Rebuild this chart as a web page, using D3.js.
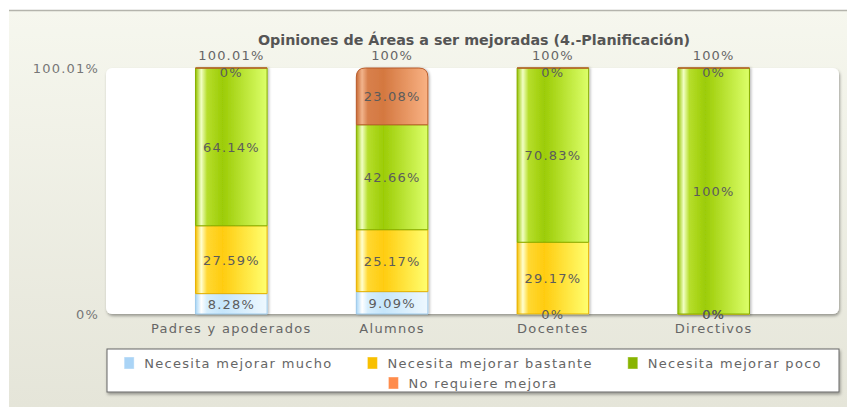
<!DOCTYPE html>
<html>
<head>
<meta charset="utf-8">
<script src="https://cdn.jsdelivr.net/npm/d3@7"></script>
<style>
  body { margin: 0; background: #fff; }
  text { font-family: "DejaVu Sans", Verdana, sans-serif; }
</style>
</head>
<body>
<div class="canvas"></div>
<script>
// chart data
const title = "Opiniones de Áreas a ser mejoradas (4.-Planificación)";
const categories = ["Padres y apoderados", "Alumnos", "Docentes", "Directivos"];
const seriesNames = ["Necesita mejorar mucho", "Necesita mejorar bastante", "Necesita mejorar poco", "No requiere mejora"];
const mucho = [8.28, 9.09, 0, 0];
const bastante = [27.59, 25.17, 29.17, 0];
const poco = [64.14, 42.66, 70.83, 100];
const noRequiere = [0, 23.08, 0, 0];
const totals = ["100.01%", "100%", "100%", "100%"];
const yTicks = [0, 100.01];

const dims = { width: 847, height: 407 };
const plot = { left: 106, right: 839, top: 68, bottom: 314 };

const palette = [
  { stops: ["#a8d6f6", "#ffffff", "#d6eefd", "#c6e6fb", "#eef8ff"], stroke: "#9fcbeb", legend: "#aad4f6" },
  { stops: ["#f5c000", "#ffffd0", "#ffd832", "#ffcc10", "#ffff70"], stroke: "#e6b000", legend: "#f8c000" },
  { stops: ["#94c400", "#f2ffc4", "#b6de2c", "#9ccc06", "#dcff6a"], stroke: "#86ae00", legend: "#88b400" },
  { stops: ["#c86a34", "#f2b48c", "#d8804c", "#d47840", "#f9b284"], stroke: "#b85c2c", legend: "#ff8c4c" }
];

const svg = d3
  .select(".canvas")
  .append("svg")
  .attr("width", dims.width)
  .attr("height", dims.height);

const defs = svg.append("defs");

// background gradient
const bg = defs.append("linearGradient").attr("id", "bg").attr("x1", 0).attr("y1", 0).attr("x2", 0).attr("y2", 1);
bg.append("stop").attr("offset", "0%").attr("stop-color", "#f6f7ee");
bg.append("stop").attr("offset", "100%").attr("stop-color", "#e5e5d9");

palette.forEach((p, i) => {
  const g = defs.append("linearGradient").attr("id", `bar${i}`).attr("x1", 0).attr("y1", 0).attr("x2", 1).attr("y2", 0);
  [0, 8, 16, 38, 100].forEach((o, k) => {
    g.append("stop").attr("offset", `${o}%`).attr("stop-color", p.stops[k]);
  });
});

const shadow = defs.append("filter").attr("id", "shadow").attr("x", "-5%").attr("y", "-5%").attr("width", "115%").attr("height", "130%");
shadow.append("feDropShadow").attr("dx", 1).attr("dy", 2).attr("stdDeviation", 1.5).attr("flood-color", "#000").attr("flood-opacity", 0.35);

const barShadow = defs.append("filter").attr("id", "barShadow").attr("x", "-10%").attr("y", "-5%").attr("width", "130%").attr("height", "110%");
barShadow.append("feDropShadow").attr("dx", 1.5).attr("dy", 0.5).attr("stdDeviation", 1).attr("flood-color", "#000").attr("flood-opacity", 0.25);

// background panel
svg.append("rect").attr("x", 9).attr("y", 10).attr("width", dims.width - 9).attr("height", dims.height - 10).attr("fill", "url(#bg)");
svg.append("line").attr("x1", 9).attr("x2", dims.width).attr("y1", 10.5).attr("y2", 10.5).attr("stroke", "#b4b4ac").attr("stroke-width", 1.5);

// plot area
svg.append("rect")
  .attr("x", plot.left).attr("y", plot.top)
  .attr("width", plot.right - plot.left).attr("height", plot.bottom - plot.top)
  .attr("rx", 6)
  .attr("fill", "#fff")
  .attr("filter", "url(#shadow)");

// title
svg.append("text")
  .attr("x", 474).attr("y", 45)
  .attr("text-anchor", "middle")
  .attr("font-family", "'DejaVu Sans Condensed', 'DejaVu Sans', sans-serif")
  .attr("font-weight", "bold")
  .attr("font-size", 14.3)
  .attr("fill", "#555")
  .text(title);

// scales
const x = d3.scaleBand()
  .domain(categories)
  .range([plot.left, plot.right])
  .paddingInner(0.555)
  .paddingOuter(0.557);

const y = d3.scaleLinear().domain([0, 100.01]).range([plot.bottom, plot.top]);

// y labels
svg.append("g")
  .selectAll("text")
  .data(yTicks)
  .enter()
  .append("text")
  .attr("x", 99)
  .attr("y", (d) => y(d) + 5)
  .attr("text-anchor", "end")
  .attr("font-size", 13)
  .attr("letter-spacing", 1.2)
  .attr("fill", "#777")
  .text((d) => d + "%");

// stack data
const rows = categories.map((c, i) => ({
  cat: c,
  [seriesNames[0]]: mucho[i],
  [seriesNames[1]]: bastante[i],
  [seriesNames[2]]: poco[i],
  [seriesNames[3]]: noRequiere[i]
}));
const stack = d3.stack().keys(seriesNames);
const layers = stack(rows);

const topRounded = (x0, y0, w, h, r) => {
  r = Math.min(r, h, w / 2);
  return `M${x0},${y0 + h}V${y0 + r}Q${x0},${y0} ${x0 + r},${y0}H${x0 + w - r}Q${x0 + w},${y0} ${x0 + w},${y0 + r}V${y0 + h}Z`;
};

const bars = svg.append("g").attr("filter", "url(#barShadow)");
layers.forEach((layer, si) => {
  const last = si === layers.length - 1;
  bars.append("g")
    .selectAll("path")
    .data(layer)
    .enter()
    .append("path")
    .attr("d", (d) => {
      const x0 = x(d.data.cat), w = x.bandwidth();
      const y0 = y(d[1]), h = y(d[0]) - y(d[1]);
      if (last && h > 0) return topRounded(x0, y0, w, h, 9);
      return `M${x0},${y0}h${w}v${h}h${-w}Z`;
    })
    .attr("fill", `url(#bar${si})`)
    .attr("stroke", palette[si].stroke)
    .attr("stroke-width", 1);
});

// value labels inside segments (zero segments sit on the bar edge)
layers.forEach((layer) => {
  svg.append("g")
    .selectAll("text")
    .data(layer)
    .enter()
    .append("text")
    .attr("x", (d) => x(d.data.cat) + x.bandwidth() / 2)
    .attr("y", (d) => {
      const mid = (y(d[0]) + y(d[1])) / 2;
      return d[1] - d[0] === 0 && d[1] > 0 ? mid + 9 : mid + 5;
    })
    .attr("text-anchor", "middle")
    .attr("font-size", 13)
    .attr("letter-spacing", 1.2)
    .attr("fill", "#5c5c5c")
    .text((d) => +(d[1] - d[0]).toFixed(2) + "%");
});

// totals above bars
svg.append("g")
  .selectAll("text")
  .data(categories)
  .enter()
  .append("text")
  .attr("x", (d) => x(d) + x.bandwidth() / 2)
  .attr("y", 60)
  .attr("text-anchor", "middle")
  .attr("font-size", 13)
  .attr("letter-spacing", 1.2)
  .attr("fill", "#666")
  .text((d, i) => totals[i]);

// category labels
svg.append("g")
  .selectAll("text")
  .data(categories)
  .enter()
  .append("text")
  .attr("x", (d) => x(d) + x.bandwidth() / 2)
  .attr("y", 333)
  .attr("text-anchor", "middle")
  .attr("font-size", 13)
  .attr("letter-spacing", 1.3)
  .attr("fill", "#666")
  .text((d) => d);

// legend
const legendBox = { x: 107, y: 349, w: 732, h: 43 };
svg.append("rect")
  .attr("x", legendBox.x).attr("y", legendBox.y)
  .attr("width", legendBox.w).attr("height", legendBox.h)
  .attr("fill", "#fff")
  .attr("stroke", "#666")
  .attr("filter", "url(#shadow)");

const legend = svg.append("g");
const items = seriesNames.map((name, i) => {
  const g = legend.append("g");
  g.append("rect").attr("width", 10).attr("height", 12).attr("y", -6)
    .attr("fill", palette[i].legend).attr("stroke", "#fff").attr("stroke-opacity", 0.4);
  const t = g.append("text").attr("x", 20).attr("y", 5)
    .attr("font-size", 13).attr("letter-spacing", 1.3).attr("fill", "#666").text(name);
  return { g, w: 20 + t.node().getComputedTextLength() };
});

// flow items into centered rows
const gap = 35, maxRow = legendBox.w - 20;
const rowsOut = [[]];
let rowW = 0;
items.forEach((it) => {
  const add = (rowsOut[rowsOut.length - 1].length ? gap : 0) + it.w;
  if (rowW + add > maxRow && rowsOut[rowsOut.length - 1].length) {
    rowsOut.push([it]);
    rowW = it.w;
  } else {
    rowsOut[rowsOut.length - 1].push(it);
    rowW += add;
  }
});
rowsOut.forEach((row, r) => {
  const total = d3.sum(row, (d) => d.w) + gap * (row.length - 1);
  let cx = legendBox.x + legendBox.w / 2 - total / 2;
  row.forEach((it) => {
    it.g.attr("transform", `translate(${cx}, ${363 + r * 20})`);
    cx += it.w + gap;
  });
});
</script>
</body>
</html>
